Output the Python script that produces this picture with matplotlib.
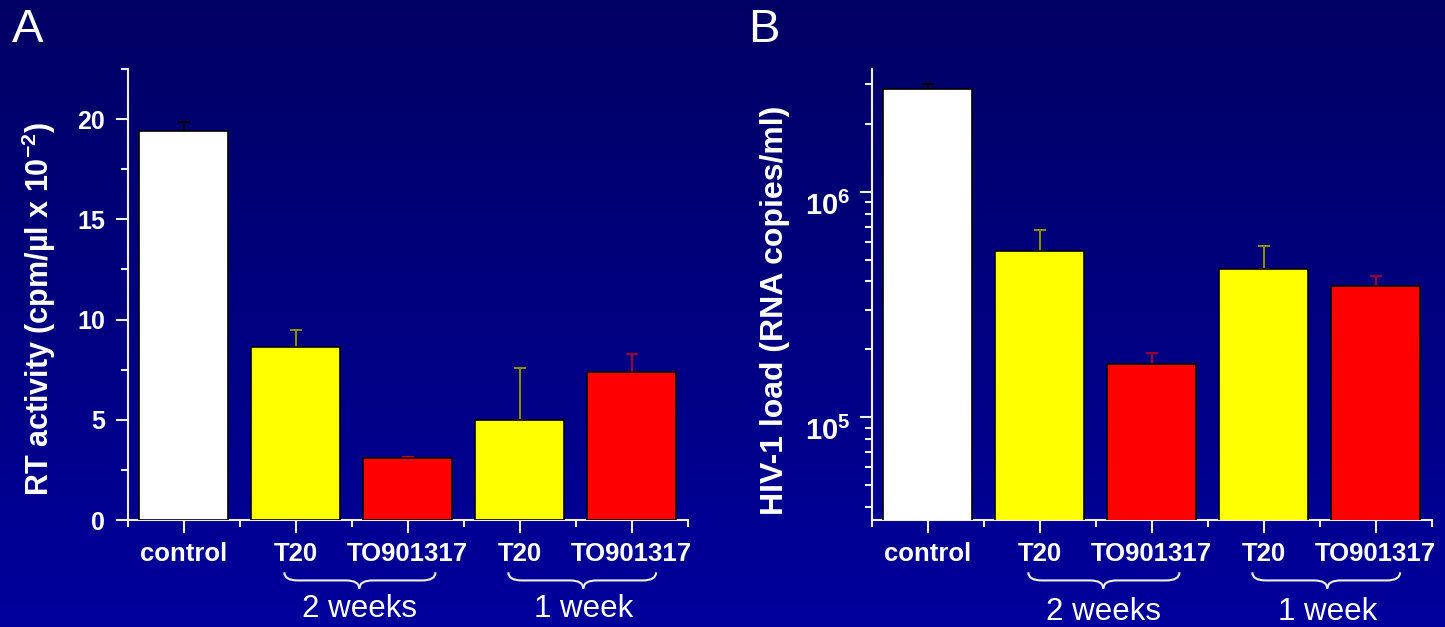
import numpy as np
import matplotlib
matplotlib.use("Agg")
import matplotlib.pyplot as plt
from matplotlib.path import Path
from matplotlib.patches import PathPatch
from matplotlib.ticker import MultipleLocator, FixedLocator, FuncFormatter, LogLocator, NullFormatter
from matplotlib.transforms import blended_transform_factory

plt.rcParams['font.family'] = ['Liberation Sans', 'DejaVu Sans']
plt.rcParams['mathtext.fontset'] = 'custom'
plt.rcParams['mathtext.rm'] = 'Liberation Sans'
plt.rcParams['mathtext.bf'] = 'Liberation Sans:bold'
plt.rcParams['mathtext.it'] = 'Liberation Sans:italic'

# ---- data ----
categories = ['control', 'T20', 'TO901317', 'T20', 'TO901317']
rt_values = [19.4, 8.63, 3.09, 4.99, 7.38]
rt_err = [0.45, 0.85, 0.06, 2.6, 0.9]
hiv_values = [2.86e6, 5.43e5, 1.72e5, 4.56e5, 3.80e5]
hiv_err = [0.14e6, 1.3e5, 0.2e5, 1.2e5, 0.41e5]
bar_colors = ['#ffffff', '#ffff00', '#ff0000', '#ffff00', '#ff0000']
err_colors_a = ['#000000', '#8c8c00', '#cc0000', '#8c8c00', '#990033']
err_colors_b = ['#000000', '#8c8c00', '#990033', '#8c8c00', '#990033']
group_labels = ['2 weeks', '1 week']
group_spans = [(0.9, 2.25, 1.57), (2.9, 4.22, 3.57)]

W, H = 1445, 627
fig = plt.figure(figsize=(W / 100, H / 100), dpi=100)

# gradient background
bg = fig.add_axes([0, 0, 1, 1], zorder=-10)
grad = np.linspace(0, 1, 256)[:, None]
top = np.array([0, 0, 100]) / 255
bot = np.array([0, 0, 156]) / 255
img = top[None, None, :] * (1 - grad[:, :, None]) + bot[None, None, :] * grad[:, :, None]
img = np.repeat(img, 2, axis=1)
bg.imshow(img, aspect='auto', extent=[0, 1, 0, 1])
bg.set_axis_off()

def px_axes(x0, x1, ytop, ybot):
    return [x0 / W, 1 - ybot / H, (x1 - x0) / W, (ybot - ytop) / H]

axA = fig.add_axes(px_axes(127.5, 687.5, 69, 520))
axB = fig.add_axes(px_axes(871.5, 1431.5, 69, 520))

white = '#f0f0f0'

def style(ax):
    ax.set_facecolor('none')
    for s in ['top', 'right']:
        ax.spines[s].set_visible(False)
    for s in ['left', 'bottom']:
        ax.spines[s].set_color(white)
        ax.spines[s].set_linewidth(1.5)
    ax.tick_params(which='both', colors=white, width=1.5, direction='out')
    ax.tick_params(which='major', length=9)
    ax.tick_params(which='minor', length=5)
    ax.tick_params(axis='x', which='major', pad=7, labelsize=18.5, labelcolor='white')
    ax.set_xlim(-0.5, 4.5)
    ax.xaxis.set_major_locator(FixedLocator(range(len(categories))))
    ax.xaxis.set_minor_locator(FixedLocator(np.arange(-0.5, 4.6, 1.0)))
    ax.set_xticklabels(categories, fontweight='bold')

def draw_bars(ax, values, errs, ecolors):
    x = np.arange(len(values))
    ax.bar(x, values, width=0.8, color=bar_colors, edgecolor='black', linewidth=1.2, zorder=3)
    for xi, v, e, c in zip(x, values, errs, ecolors):
        ax.errorbar([xi], [v], yerr=[[0], [e]], fmt='none', ecolor=c,
                    elinewidth=1.5, capsize=4, capthick=1.5, zorder=2)

def brace(ax, x0, x1, xc):
    tr = blended_transform_factory(ax.transData, ax.transAxes)
    yt, ym, yb = -0.116, -0.134, -0.152
    r = 0.12
    verts = [(x0, yt), (x0, ym), (x0 + r, ym), (xc - r, ym),
             (xc, ym), (xc, yb), (xc, ym), (xc + r, ym),
             (x1 - r, ym), (x1, ym), (x1, yt)]
    codes = [Path.MOVETO, Path.CURVE3, Path.CURVE3, Path.LINETO,
             Path.CURVE3, Path.CURVE3, Path.CURVE3, Path.CURVE3,
             Path.LINETO, Path.CURVE3, Path.CURVE3]
    p = PathPatch(Path(verts, codes), transform=tr, fill=False,
                  edgecolor=white, linewidth=1.5, clip_on=False)
    ax.add_patch(p)

# Panel A
style(axA)
axA.set_ylim(0, 22.5)
axA.yaxis.set_major_locator(MultipleLocator(5))
axA.yaxis.set_minor_locator(MultipleLocator(2.5))
axA.tick_params(axis='y', which='major', pad=7, labelsize=18, labelcolor='white')
for t in axA.get_yticklabels():
    t.set_fontweight('bold')
draw_bars(axA, rt_values, rt_err, err_colors_a)

# Panel B
style(axB)
axB.set_yscale('log')
axB.set_ylim(3.5e4, 3.5e6)
axB.yaxis.set_major_locator(FixedLocator([1e5, 1e6]))
axB.yaxis.set_major_formatter(FuncFormatter(lambda v, p: r'$\mathbf{10^{%d}}$' % round(np.log10(v))))
axB.yaxis.set_minor_locator(LogLocator(base=10, subs=np.arange(2, 10)))
axB.yaxis.set_minor_formatter(NullFormatter())
axB.tick_params(axis='y', which='major', pad=6, labelsize=21, labelcolor='white')
for t in axB.get_yticklabels():
    t.set_verticalalignment('top')
draw_bars(axB, hiv_values, hiv_err, err_colors_b)

for ax, ty in [(axA, -0.198), (axB, -0.203)]:
    tr = blended_transform_factory(ax.transData, ax.transAxes)
    for (x0, x1, xc), lab in zip(group_spans, group_labels):
        brace(ax, x0, x1, xc)
        ax.text(xc, ty, lab, transform=tr, ha='center', va='center',
                fontsize=22.5, color='white', clip_on=False)

# y labels
fig.text(39 / W, 1 - 309 / H, r'RT activity (cpm/µl x 10$^{\mathbf{-2}}$)',
         rotation=90, ha='center', va='center', fontsize=22, fontweight='bold', color='white')
fig.text(775 / W, 1 - 310 / H, 'HIV-1 load (RNA copies/ml)',
         rotation=90, ha='center', va='center', fontsize=23, fontweight='bold', color='white')

# panel letters
fig.text(12 / W, 1 - 8 / H, 'A', ha='left', va='top', fontsize=34, color='white')
fig.text(748 / W, 1 - 8 / H, 'B', ha='left', va='top', fontsize=34, color='white')

fig.savefig('out.png', dpi=100)
